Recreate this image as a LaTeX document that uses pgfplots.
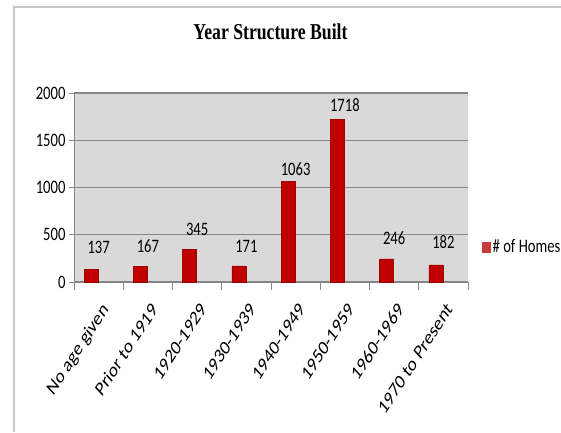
\documentclass[border=0pt]{standalone}
\usepackage{pgfplots}
\pgfplotsset{compat=1.18}
\usepackage{fontspec}
\setmainfont{Carlito}
\newfontfamily\lblfont[FakeStretch=0.77]{Carlito}
\newfontfamily\rotfont[FakeStretch=1.15,FakeSlant=0.25]{Carlito}
\newfontfamily\titlefont[FakeStretch=0.78]{Liberation Serif}
\definecolor{barred}{RGB}{192,0,0}
\definecolor{baredge}{RGB}{160,0,0}
\definecolor{legred}{RGB}{200,60,60}
\definecolor{bggray}{RGB}{217,217,217}
\definecolor{gridgray}{RGB}{134,134,134}
\definecolor{framegray}{RGB}{200,200,200}
\begin{document}
\begin{tikzpicture}
\path[use as bounding box] (0pt,0pt) rectangle (561pt,432pt);
\draw[framegray, line width=2pt] (13.5pt,0pt) -- (13.5pt,425pt) -- (561pt,425pt);
\node[anchor=base, inner sep=0pt] at (270.5pt,392pt) {\titlefont\bfseries\fontsize{22.7}{27}\selectfont Year Structure Built};
\begin{axis}[
  at={(74pt,150pt)}, anchor=south west, scale only axis,
  width=394pt, height=189pt,
  xmin=-0.5, xmax=7.5, ymin=0, ymax=2000,
  axis background/.style={fill=bggray},
  axis x line*=bottom, axis y line*=left,
  axis line style={-, draw=gridgray, line width=1pt},
  xtick={0,...,7},
  xticklabels={No age given, Prior to 1919, 1920-1929, 1930-1939, 1940-1949, 1950-1959, 1960-1969, 1970 to Present\hspace{10pt}},
  minor xtick={-0.5,0.5,...,7.5},
  ytick={0,500,1000,1500,2000},
  yticklabels={0,500,1000,1500,2000},
  tick align=outside,
  major tick length=5pt, minor tick length=8pt,
  major x tick style={draw=none},
  minor x tick style={draw=gridgray, line width=0.8pt},
  major y tick style={draw=gridgray, line width=0.8pt},
  ymajorgrids=true,
  grid style={draw=gridgray, line width=1.2pt},
  yticklabel style={font=\lblfont\fontsize{19}{22}\selectfont, text=black},
  xticklabel style={yshift=-14pt, rotate=57, anchor=north east, font=\rotfont\fontsize{17}{20}\selectfont, text=black, inner sep=2pt},
  legend image code/.code={\fill[legred] (0pt,-5pt) rectangle (8pt,5pt);},
  legend style={at={(1.0355,0.185)}, anchor=west, draw=none, fill=none, inner sep=0pt,
    font=\lblfont\fontsize{19}{22}\selectfont},
  clip=false,
]
\addplot[ybar, bar width=14pt, bar shift=-7.5pt, fill=barred, draw=baredge, line width=0.5pt]
  coordinates {(0,137) (1,167) (2,345) (3,171) (4,1063) (5,1718) (6,246) (7,182)};
\addlegendentry{\# of Homes}
\addplot[ybar, bar width=14pt, bar shift=-7.5pt, draw=none, fill=none, forget plot,
  nodes near coords, point meta=explicit symbolic,
  nodes near coords style={anchor=south, inner sep=0pt, font=\lblfont\fontsize{19}{22}\selectfont, text=black}]
  coordinates {(0,296) [137] (1,307) [167] (2,487) [345] (3,307) [171] (4,1122) [1063] (5,1802) [1718] (6,392) [246] (7,349) [182]};
\end{axis}
\end{tikzpicture}
\end{document}
